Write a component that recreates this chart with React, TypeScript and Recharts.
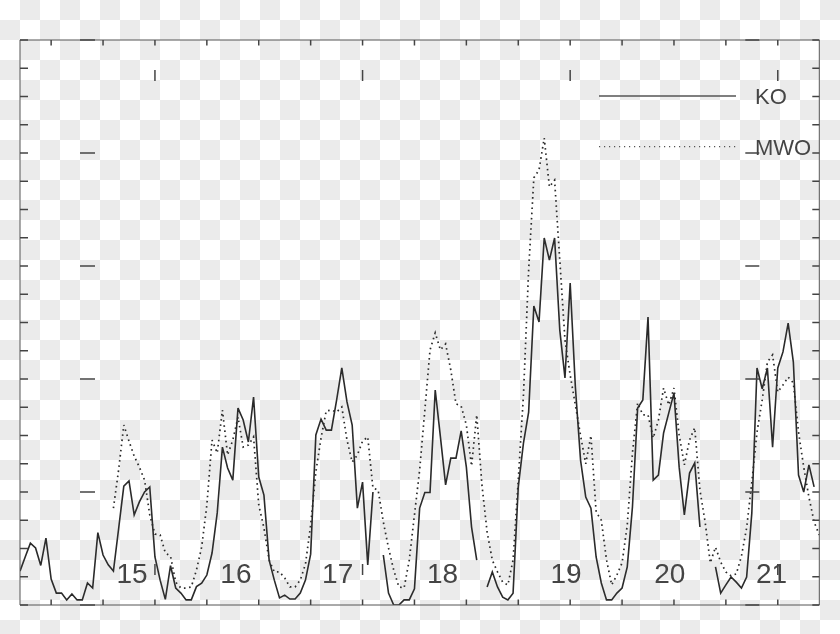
import React from 'react';
import { LineChart, Line, XAxis, YAxis, Legend, ReferenceDot } from 'recharts';

// half-year samples starting at 1907.0
const startYear = 1907;

const koValues: (number | null)[] = [
  1.2, 1.7, // 1907
  2.19, 2.02, // 1908
  1.4, 2.37, // 1909
  0.92, 0.42, // 1910
  0.42, 0.18, // 1911
  0.39, 0.18, // 1912
  0.18, 0.78, // 1913
  0.6, 2.56, // 1914
  1.77, 1.42, // 1915
  1.2, 2.7, // 1916
  4.21, 4.39, // 1917
  3.19, 3.65, // 1918
  4.0, 4.18, // 1919
  1.7, 0.88, // 1920
  0.2, 1.39, // 1921
  0.6, 0.42, // 1922
  0.18, 0.18, // 1923
  0.65, 0.77, // 1924
  1.06, 1.84, // 1925
  3.26, 5.59, // 1926
  4.85, 4.42, // 1927
  6.97, 6.55, // 1928
  5.77, 7.36, // 1929
  4.53, 3.89, // 1930
  1.59, 0.88, // 1931
  0.25, 0.35, // 1932
  0.21, 0.21, // 1933
  0.42, 0.88, // 1934
  1.8, 6.02, // 1935
  6.58, 6.19, // 1936
  6.19, 7.25, // 1937
  8.39, 7.19, // 1938
  6.37, 3.43, // 1939
  4.35, 1.42, // 1940
  4.0, null, // 1941
  1.77, 0.42, // 1942
  0, 0, // 1943
  0.18, 0.18, // 1944
  0.57, 3.43, // 1945
  3.98, 3.98, // 1946
  7.61, 5.95, // 1947
  4.25, 5.2, // 1948
  5.2, 6.16, // 1949
  4.88, 2.76, // 1950
  1.59, null, // 1951
  0.64, 1.17, // 1952
  0.64, 0.28, // 1953
  0.18, 0.42, // 1954
  4.18, 5.73, // 1955
  6.83, 10.58, // 1956
  10.02, 12.99, // 1957
  12.21, 12.99, // 1958
  9.73, 8.04, // 1959
  11.4, 7.72, // 1960
  5.13, 3.82, // 1961
  3.43, 1.7, // 1962
  0.78, 0.18, // 1963
  0.18, 0.42, // 1964
  0.6, 1.35, // 1965
  3.47, 6.97, // 1966
  7.26, 10.19, // 1967
  4.42, 4.6, // 1968
  6.09, 6.8, // 1969
  7.5, 4.88, // 1970
  3.19, 4.67, // 1971
  5.03, 2.76, // 1972
  null, null, // 1973
  1.35, 0.42, // 1974
  0.71, 0.99, // 1975
  0.81, 0.6, // 1976
  0.99, 3.26, // 1977
  8.39, 7.65, // 1978
  8.39, 5.59, // 1979
  8.39, 8.96, // 1980
  9.98, 8.6, // 1981
  4.6, 4.0, // 1982
  4.96, 4.18, // 1983
  null, // 1984
];

const mwoValues: (number | null)[] = [
  null, null, // 1907
  null, null, // 1908
  null, null, // 1909
  null, null, // 1910
  null, null, // 1911
  null, null, // 1912
  null, null, // 1913
  null, null, // 1914
  null, null, // 1915
  3.43, 4.78, // 1916
  6.37, 5.8, // 1917
  5.27, 4.88, // 1918
  4.42, 3.19, // 1919
  2.51, 2.48, // 1920
  1.84, 1.73, // 1921
  0.81, 0.6, // 1922
  0.6, 0.64, // 1923
  1.24, 2.05, // 1924
  3.54, 5.84, // 1925
  5.38, 6.9, // 1926
  5.31, 5.84, // 1927
  6.65, 5.59, // 1928
  5.66, 5.95, // 1929
  3.54, 2.73, // 1930
  1.59, 1.17, // 1931
  1.17, 0.96, // 1932
  0.64, 0.64, // 1933
  0.88, 1.45, // 1934
  2.83, 4.71, // 1935
  5.91, 6.87, // 1936
  6.9, 6.83, // 1937
  7.01, 5.84, // 1938
  5.06, 5.31, // 1939
  5.8, 5.95, // 1940
  4.14, 4.07, // 1941
  2.94, 2.02, // 1942
  1.24, 0.64, // 1943
  0.6, 1.59, // 1944
  3.19, 4.78, // 1945
  6.9, 9.03, // 1946
  9.63, 9.03, // 1947
  9.24, 8.32, // 1948
  7.12, 7.04, // 1949
  6.37, 4.92, // 1950
  6.73, 4.25, // 1951
  2.58, 1.59, // 1952
  1.17, 0.81, // 1953
  0.71, 1.59, // 1954
  4.42, 7.43, // 1955
  11.86, 15.12, // 1956
  15.4, 16.53, // 1957
  14.8, 15.04, // 1958
  12.21, 9.38, // 1959
  8.14, 7.08, // 1960
  6.0, 5.0, // 1961
  6.0, 3.3, // 1962
  3.0, 1.6, // 1963
  0.71, 1.06, // 1964
  1.49, 2.83, // 1965
  5.38, 7.15, // 1966
  6.73, 6.73, // 1967
  5.91, 6.55, // 1968
  7.68, 7.08, // 1969
  7.68, 6.02, // 1970
  4.96, 5.84, // 1971
  6.27, 4.07, // 1972
  2.94, 1.49, // 1973
  2.05, 1.52, // 1974
  1.17, 1.03, // 1975
  1.1, 1.73, // 1976
  2.73, 4.35, // 1977
  6.12, 7.26, // 1978
  8.6, 8.85, // 1979
  7.54, 7.79, // 1980
  8.07, 7.86, // 1981
  6.12, 4.88, // 1982
  3.82, 2.94, // 1983
  2.48, // 1984
];

const years = koValues.map((_, i) => startYear + i * 0.5);

const xMinorTicks = [1910, 1915, 1920, 1925, 1930, 1935, 1940, 1945, 1950, 1955, 1960, 1965, 1970, 1975, 1980];
const xMajorTicks = [1920, 1940, 1960, 1980];
const yMinorTicks = [0, 1, 2, 3, 4, 5, 6, 7, 8, 9, 10, 11, 12, 13, 14, 15, 16, 17, 18, 19, 20];
const yMajorTicks = [0, 4, 8, 12, 16, 20];

const cycleLabels = ['15', '16', '17', '18', '19', '20', '21'];
const cycleLabelYears = [1917.8, 1927.8, 1937.6, 1947.7, 1959.6, 1969.6, 1979.4];
const cycleLabelLevel = 0.78;

const rows = years.map((year, i) => ({ year, ko: koValues[i], mwo: mwoValues[i] }));

const INK = '#2b2b2b';
const TEXT = '#454545';
const FONT = '"Liberation Sans", Arial, sans-serif';

const blank = () => '';

const LegendBox = () => (
  <svg width={240} height={90} style={{ overflow: 'visible' }}>
    <line x1={9} y1={21} x2={146} y2={21} stroke="#555" strokeWidth={1.5} />
    <text x={165} y={29} fontFamily={FONT} fontSize={22} fill={TEXT}>KO</text>
    <line x1={9} y1={71.7} x2={146} y2={71.7} stroke="#555" strokeWidth={1.2} strokeDasharray="1.2 3.8" />
    <text x={165} y={80} fontFamily={FONT} fontSize={22} fill={TEXT}>MWO</text>
  </svg>
);

export default function App() {
  const axisLine = { stroke: '#555', strokeWidth: 1 };
  const tickLine = { stroke: '#444', strokeWidth: 1.5 };
  return (
    <div
      style={{
        position: 'fixed',
        left: 0,
        top: 0,
        width: 840,
        height: 634,
        background: 'conic-gradient(#ebebeb 0 25%, #ffffff 0 50%, #ebebeb 0 75%, #ffffff 0) 0 0 / 40px 40px',
      }}
    >
      <LineChart width={840} height={634} data={rows} margin={{ top: 40, right: 20.7, bottom: 29, left: 20 }}>
        <XAxis xAxisId="b" type="number" dataKey="year" domain={[1907, 1984]} allowDataOverflow orientation="bottom" mirror ticks={xMinorTicks} tickSize={5.5} tickFormatter={blank} axisLine={axisLine} tickLine={tickLine} interval={0} />
        <XAxis xAxisId="b2" type="number" dataKey="year" domain={[1907, 1984]} allowDataOverflow orientation="bottom" mirror ticks={xMajorTicks} tickSize={11} tickFormatter={blank} axisLine={false} tickLine={tickLine} interval={0} />
        <XAxis xAxisId="t" type="number" dataKey="year" domain={[1907, 1984]} allowDataOverflow orientation="top" mirror ticks={xMinorTicks} tickSize={5.5} tickFormatter={blank} axisLine={axisLine} tickLine={tickLine} interval={0} />
        <XAxis xAxisId="t2" type="number" dataKey="year" domain={[1907, 1984]} allowDataOverflow orientation="top" mirror ticks={xMajorTicks} tickSize={11} tickFormatter={blank} axisLine={false} tickLine={tickLine} interval={0} />
        <YAxis yAxisId="l" type="number" domain={[0, 20]} allowDataOverflow orientation="left" mirror ticks={yMinorTicks} tickSize={8} tickFormatter={blank} axisLine={axisLine} tickLine={tickLine} interval={0} />
        <YAxis yAxisId="l2" type="number" domain={[0, 20]} allowDataOverflow orientation="left" mirror ticks={yMajorTicks} tickSize={15} tickFormatter={blank} axisLine={false} tickLine={tickLine} interval={0} />
        <YAxis yAxisId="r" type="number" domain={[0, 20]} allowDataOverflow orientation="right" mirror ticks={yMinorTicks} tickSize={7} tickFormatter={blank} axisLine={axisLine} tickLine={tickLine} interval={0} />
        <YAxis yAxisId="r2" type="number" domain={[0, 20]} allowDataOverflow orientation="right" mirror ticks={yMajorTicks} tickSize={14} tickFormatter={blank} axisLine={false} tickLine={tickLine} interval={0} />
        <Legend
          layout="horizontal"
          verticalAlign="middle"
          align="center"
          content={() => <LegendBox />}
          wrapperStyle={{ position: 'absolute', left: 590, top: 75, width: 240, height: 90 }}
        />
        <Line xAxisId="b" yAxisId="l" type="linear" dataKey="mwo" name="MWO" stroke={INK} strokeWidth={1.7} strokeDasharray="1.6 3.6" dot={false} activeDot={false} isAnimationActive={false} connectNulls={false} />
        <Line xAxisId="b" yAxisId="l" type="linear" dataKey="ko" name="KO" stroke={INK} strokeWidth={1.6} dot={false} activeDot={false} isAnimationActive={false} connectNulls={false} />
        {cycleLabels.map((label, i) => (
          <ReferenceDot
            key={label}
            xAxisId="b"
            yAxisId="l"
            x={cycleLabelYears[i]}
            y={cycleLabelLevel}
            r={0}
            ifOverflow="visible"
            shape={(p: any) => (
              <text x={p.cx} y={p.cy} textAnchor="middle" fontFamily={FONT} fontSize={28} fill={TEXT}>
                {label}
              </text>
            )}
          />
        ))}
      </LineChart>
    </div>
  );
}
